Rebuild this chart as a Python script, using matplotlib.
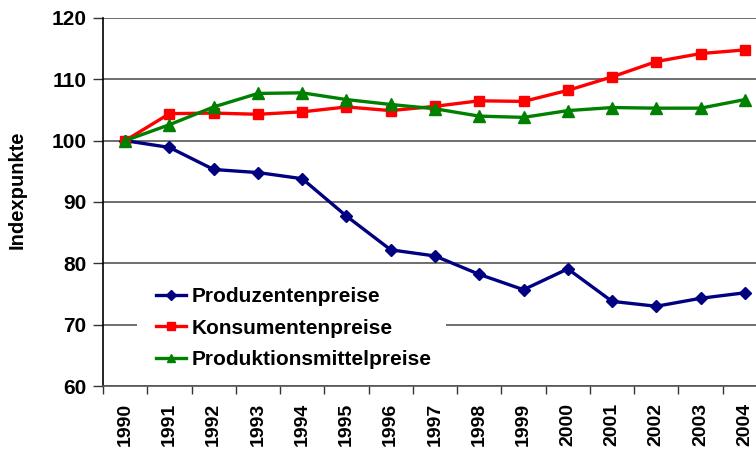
import matplotlib
matplotlib.use("Agg")
import matplotlib.pyplot as plt
from matplotlib.patches import Rectangle

plt.rcParams['font.family'] = ['Liberation Sans', 'DejaVu Sans']

years = ["1990", "1991", "1992", "1993", "1994", "1995", "1996", "1997",
         "1998", "1999", "2000", "2001", "2002", "2003", "2004"]
produzentenpreise = [100, 98.9, 95.3, 94.8, 93.8, 87.7, 82.2, 81.2,
                     78.2, 75.7, 79.1, 73.8, 73.0, 74.3, 75.2]
konsumentenpreise = [100, 104.4, 104.5, 104.3, 104.7, 105.5, 104.9, 105.6,
                     106.5, 106.4, 108.2, 110.4, 112.9, 114.2, 114.8]
produktionsmittelpreise = [100, 102.6, 105.5, 107.7, 107.8, 106.7, 105.9, 105.2,
                           104.0, 103.8, 104.9, 105.4, 105.3, 105.3, 106.7]
yticks = [60, 70, 80, 90, 100, 110, 120]

W, H = 756, 450
L, R, T, B = 103, 767, 18, 386
fig = plt.figure(figsize=(W/100, H/100), dpi=100)
ax = fig.add_axes([L/W, 1-B/H, (R-L)/W, (B-T)/H])

x = list(range(len(years)))
ax.plot(x, produzentenpreise, color='#000080', lw=2.4, marker='D', ms=6.5,
        label='Produzentenpreise', zorder=3)
ax.plot(x, konsumentenpreise, color='#FF0000', lw=2.4, marker='s', ms=7.5,
        label='Konsumentenpreise', zorder=3)
ax.plot(x, produktionsmittelpreise, color='#008000', lw=2.4, marker='^', ms=8.5,
        label='Produktionsmittelpreise', zorder=3)

ax.set_xlim(-0.5, len(years) - 0.5)
ax.set_ylim(60, 120)
ax.set_yticks(yticks)
ax.set_yticklabels([str(v) for v in yticks], fontsize=15, fontweight='bold')
ax.set_xticks([i - 0.5 for i in range(len(years) + 1)])
ax.set_xticklabels([])
ax.set_xticks(x, minor=True)
ax.set_xticklabels(years, minor=True, rotation=90, fontsize=14, fontweight='bold')
ax.tick_params(axis='x', which='minor', length=0, pad=12)
ax.tick_params(axis='x', which='major', length=6, width=1, color='#333333', direction='out')
ax.tick_params(axis='y', length=7, width=1, color='#333333', direction='out', pad=5)

ax.grid(axis='y', color='#555555', lw=1.2)
ax.set_axisbelow(True)
for s in ['top', 'right']:
    ax.spines[s].set_visible(False)
ax.spines['left'].set_color('black')
ax.spines['left'].set_linewidth(1.2)
ax.spines['bottom'].set_color('#555555')
ax.spines['bottom'].set_linewidth(1.2)

ax.set_ylabel('Indexpunkte', fontsize=14.5, fontweight='bold')
ax.yaxis.set_label_coords((27 - L)/(R - L), 0.533)

# white background behind the legend (interrupts the 70 gridline)
bg = Rectangle((137/W, 1-376/H), (446-137)/W, (376-278)/H, transform=fig.transFigure,
               facecolor='white', edgecolor='none', zorder=2)
ax.add_patch(bg)

leg = ax.legend(loc='upper left', bbox_to_anchor=(154/W, 1-285/H),
                bbox_transform=fig.transFigure, frameon=False,
                prop={'weight': 'bold', 'size': 15}, handlelength=1.45,
                handletextpad=0.25, labelspacing=0.6, borderpad=0.1,
                borderaxespad=0, markerscale=0.75)
leg.set_zorder(5)

fig.savefig('out.png', dpi=100)
